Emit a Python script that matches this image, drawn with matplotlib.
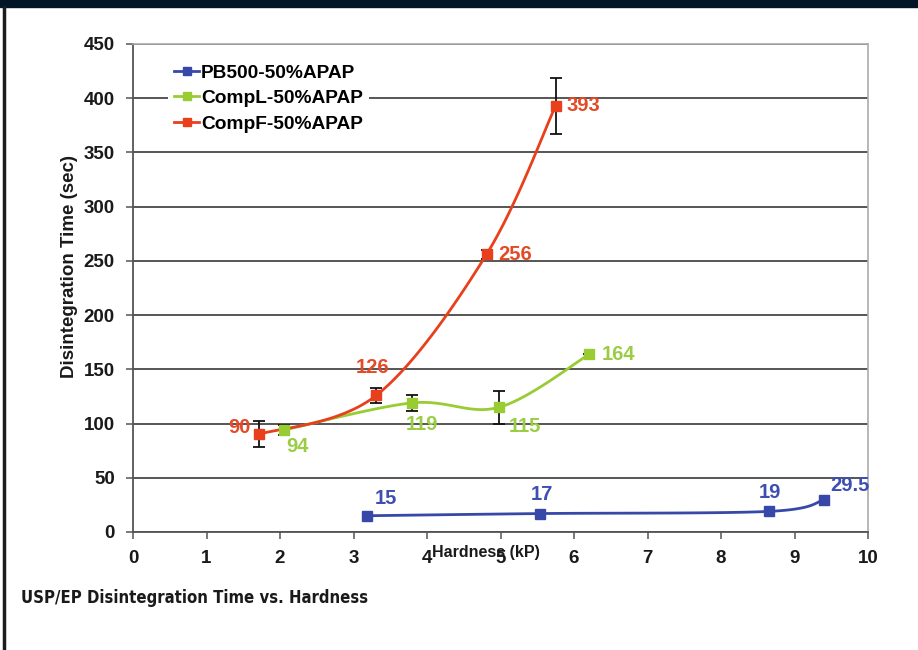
import numpy as np
import matplotlib.pyplot as plt
from matplotlib.patches import Rectangle
from matplotlib.lines import Line2D

# hardness (kP), disintegration time (sec), error bar half-widths
pb_x = [3.18, 5.54, 8.65, 9.40]
pb_y = [15, 17, 19, 29.5]
pb_err = [0, 0, 0, 0]

compl_x = [2.05, 3.79, 4.98, 6.21]
compl_y = [94, 119, 115, 164]
compl_err = [5, 7, 15, 0]

compf_x = [1.71, 3.31, 4.81, 5.75]
compf_y = [90, 126, 256, 393]
compf_err = [12, 7, 4, 26]

names = ['PB500-50%APAP', 'CompL-50%APAP', 'CompF-50%APAP']
colors = ['#3848a8', '#99cc33', '#e8401c']
label_colors = ['#3d4fb0', '#9acd44', '#e54a26']

BOLD = ['Liberation Sans', 'DejaVu Sans']


def smooth(xs, ys, sx, sy, n=40):
    # Catmull-Rom style bezier smoothing, done in screen-like units
    px = np.array(xs) * sx
    py = np.array(ys) * sy
    pts = np.column_stack([px, py])
    out = [pts[0]]
    for i in range(len(pts) - 1):
        p0 = pts[i - 1] if i > 0 else pts[i]
        p1, p2 = pts[i], pts[i + 1]
        p3 = pts[i + 2] if i + 2 < len(pts) else pts[i + 1]
        c1 = p1 + (p2 - p0) / 6
        c2 = p2 - (p3 - p1) / 6
        t = np.linspace(0, 1, n)[1:, None]
        seg = ((1 - t) ** 3 * p1 + 3 * (1 - t) ** 2 * t * c1
               + 3 * (1 - t) * t ** 2 * c2 + t ** 3 * p2)
        out.extend(seg)
    out = np.array(out)
    return out[:, 0] / sx, out[:, 1] / sy


fig = plt.figure(figsize=(9.18, 6.5), dpi=100)
fig.patch.set_facecolor('white')

# dark header band and left rule
fig.patches.append(Rectangle((0, 1 - 7 / 650), 1, 7 / 650, transform=fig.transFigure,
                             color='#021526', zorder=0))
fig.lines.append(Line2D([4 / 918, 4 / 918], [0, 1 - 7 / 650], transform=fig.transFigure,
                        color='#1c1c1c', lw=2.5))

ax = fig.add_axes([133 / 918, 1 - 532 / 650, 735 / 918, 488 / 650])
ax.set_facecolor('white')
ax.set_xlim(0, 10)
ax.set_ylim(0, 450)
ax.set_xticks(range(0, 11))
ax.set_yticks(range(0, 451, 50))
ax.yaxis.grid(True, color='#555555', lw=1.4)
ax.set_axisbelow(True)
for s in ['top', 'right']:
    ax.spines[s].set_color('#b0aaaa')
    ax.spines[s].set_linewidth(1.2)
for s in ['left', 'bottom']:
    ax.spines[s].set_color('#555555')
    ax.spines[s].set_linewidth(1.3)
ax.tick_params(direction='out', length=5, width=1.1, color='#555555', pad=8)
for lab in ax.get_xticklabels() + ax.get_yticklabels():
    lab.set_family(BOLD)
    lab.set_fontweight('bold')
    lab.set_fontsize(13.5)
    lab.set_color('#1a1a1a')

sx, sy = 73.5, 488 / 450
series = [(pb_x, pb_y, pb_err), (compl_x, compl_y, compl_err), (compf_x, compf_y, compf_err)]
handles = []
for (xs, ys, err), name, c in zip(series, names, colors):
    cx, cy = smooth(xs, ys, sx, sy)
    ax.plot(cx, cy, color=c, lw=2, zorder=3)
    if any(err):
        ax.errorbar(xs, ys, yerr=err, fmt='none', ecolor='#111111', elinewidth=1.3,
                    capsize=4, capthick=1.3, zorder=4)
    ax.plot(xs, ys, 's', color=c, ms=7, zorder=5)
    handles.append(Line2D([], [], color=c, lw=2, marker='s', ms=6))

# value labels (offsets in pixels)
offsets = [
    [(8, 17, 'left'), (2, 19, 'center'), (1, 19, 'center'), (6, 15, 'left')],
    [(3, -16, 'left'), (-6, -22, 'left'), (10, -19, 'left'), (12, 0, 'left')],
    [(-8, 7, 'right'), (-4, 28, 'center'), (12, 0, 'left'), (11, 0, 'left')],
]
for (xs, ys, err), lc, offs in zip(series, label_colors, offsets):
    for x, y, (dx, dy, ha) in zip(xs, ys, offs):
        txt = f'{y:g}'
        ax.annotate(txt, (x, y), xytext=(dx, dy), textcoords='offset pixels',
                    ha=ha, va='center', color=lc, fontsize=14.5, fontweight='bold',
                    family=BOLD, zorder=6)

leg = ax.legend(handles, names, loc='upper left', bbox_to_anchor=(0.035, 0.99),
                frameon=True, facecolor='white', edgecolor='none', framealpha=1,
                prop={'family': BOLD, 'weight': 'bold', 'size': 13.8},
                handlelength=1.3, handletextpad=0.1, labelspacing=0.42,
                borderpad=0.3)
leg.set_zorder(7)

fig.text(70 / 918, 1 - 267 / 650, 'Disintegration Time (sec)', rotation=90,
         ha='center', va='center', fontsize=13.5, fontweight='bold', family=BOLD,
         color='#1a1a1a')
fig.text(486 / 918, 1 - 552 / 650, 'Hardness (kP)', ha='center', va='center',
         fontsize=11.5, fontweight='bold', family=BOLD, color='#1a1a1a')
fig.text(21 / 918, 1 - 598 / 650, 'USP/EP Disintegration Time vs. Hardness',
         ha='left', va='center', fontsize=12, fontweight='bold',
         family='DejaVu Sans', fontstretch='condensed', color='#1a1a1a')

fig.savefig('out.png', dpi=100)
